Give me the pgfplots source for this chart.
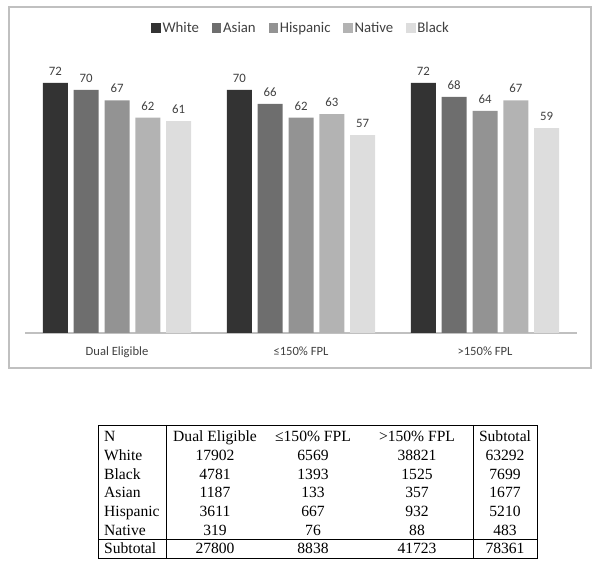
\documentclass[border=0pt]{standalone}
\usepackage{pgfplots}
\pgfplotsset{compat=1.18}
\usepackage{fontspec}
\setmainfont{Carlito}
\newfontfamily\tabfont{Liberation Serif}

\definecolor{cWhite}{HTML}{333333}
\definecolor{cAsian}{HTML}{6E6E6E}
\definecolor{cHisp}{HTML}{939393}
\definecolor{cNative}{HTML}{B3B3B3}
\definecolor{cBlack}{HTML}{DDDDDD}
\definecolor{framegray}{HTML}{C0C0C0}
\definecolor{labelgray}{HTML}{404040}

\begin{document}
\begin{tikzpicture}[x=1pt,y=1pt]
\path[use as bounding box] (0,0) rectangle (600,565);
\draw[framegray, line width=1.2pt] (9,558) rectangle (591,197);

\begin{axis}[
    at={(25pt,232pt)}, anchor=south west,
    scale only axis, width=552pt, height=277.8pt,
    xmin=-0.5, xmax=2.5, ymin=0, ymax=80,
    ybar=5.8pt, bar width=25pt,
    axis x line*=bottom, hide y axis,
    x axis line style={draw=framegray, line width=1.6pt},
    xtick={0,1,2},
    xticklabels={Dual Eligible,≤150\% FPL,>150\% FPL},
    major tick length=0pt,
    xticklabel style={font=\fontsize{12.6}{15}\selectfont, text=labelgray, yshift=-10pt},
    /pgf/number format/assume math mode=true,
    nodes near coords,
    every node near coord/.append style={font=\fontsize{12.8}{15}\selectfont, text=labelgray, yshift=4pt},
    every axis plot post/.append style={legend image code/.code={\fill[##1] (0pt,-4.75pt) rectangle (9.5pt,4.75pt);}},
    legend columns=-1,
    legend style={at={(0.5,1)}, anchor=center, yshift=27pt, draw=none, fill=none,
        font=\fontsize{14.8}{17}\selectfont, text=labelgray,
        nodes={inner sep=1.8pt},
        /tikz/every even column/.append style={column sep=11pt}},
]
\addplot[fill=cWhite, draw=none] coordinates {(0,72) (1,70) (2,72)};
\addplot[fill=cAsian, draw=none] coordinates {(0,70) (1,66) (2,68)};
\addplot[fill=cHisp, draw=none] coordinates {(0,67) (1,62) (2,64)};
\addplot[fill=cNative, draw=none] coordinates {(0,62) (1,63) (2,67)};
\addplot[fill=cBlack, draw=none] coordinates {(0,61) (1,57) (2,59)};
\legend{White,Asian,Hispanic,Native,Black}
\end{axis}

% table of counts
\draw[line width=0.8pt] (98,140) rectangle (537,7);
\draw[line width=0.8pt] (98,26) -- (537,26);
\draw[line width=0.8pt] (166,140) -- (166,7);
\draw[line width=0.8pt] (473,140) -- (473,7);
\foreach \y/\a/\b/\c/\d/\e in {
    123/N/Dual Eligible/≤150\% FPL/>150\% FPL/Subtotal,
    104/White/17902/6569/38821/63292,
    85.5/Black/4781/1393/1525/7699,
    67/Asian/1187/133/357/1677,
    48/Hispanic/3611/667/932/5210,
    29.5/Native/319/76/88/483,
    11/Subtotal/27800/8838/41723/78361}{
  \begin{scope}[every node/.style={inner sep=0pt, font=\tabfont\fontsize{15.6}{18}\selectfont}]
  \node[anchor=base west] at (104,\y) {\a};
  \node[anchor=base] at (215,\y) {\b};
  \node[anchor=base] at (313,\y) {\c};
  \node[anchor=base] at (417,\y) {\d};
  \node[anchor=base] at (505,\y) {\e};
  \end{scope}
}
\end{tikzpicture}
\end{document}
